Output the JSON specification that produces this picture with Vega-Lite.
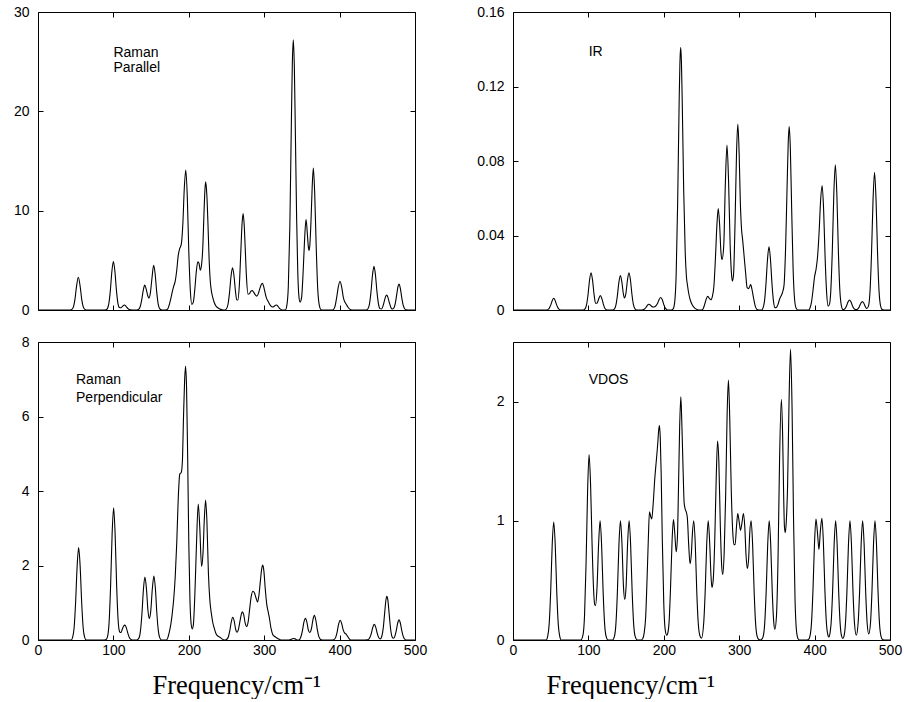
{
"$schema":"https://vega.github.io/schema/vega-lite/v6.json",
"padding":{"left":12,"top":4,"right":0,"bottom":0},
"background":"white",
"bounds":"flush",
"columns":2,
"spacing":{"row":32,"column":98},
"config":{
 "view":{"stroke":"#000","strokeWidth":1},
 "axis":{"domain":false,"grid":false,"tickColor":"#000","tickSize":-5,"tickWidth":1,"labelFont":"Liberation Sans","labelFontSize":14,"labelColor":"#000","titleFont":"Liberation Serif","titleFontSize":26.5,"titleFontWeight":"normal","titleColor":"#000"},
 "axisX":{"labelPadding":8,"labelFlush":false},
 "axisY":{"labelPadding":14}
},
"concat":[
{"width":377,"height":298,"data":{"name":"rpar"},"resolve":{"axis":{"x":"independent","y":"independent"}},
 "layer":[
  {"mark":{"type":"line","color":"#000","strokeWidth":1.1,"interpolate":"monotone"},
   "encoding":{"x":{"field":"f","type":"quantitative","scale":{"domain":[0,500]},"axis":{"orient":"bottom","values":[0,100,200,300,400,500],"labels":false,"title":null}},
    "y":{"field":"v","type":"quantitative","scale":{"domain":[0,30]},"axis":{"orient":"left","values":[0,10,20,30],"title":null}}}},
  {"mark":{"type":"line","opacity":0},
   "encoding":{"x":{"field":"f","type":"quantitative","scale":{"domain":[0,500]},"axis":{"orient":"top","values":[0,100,200,300,400,500],"labels":false,"title":null}},
    "y":{"field":"v","type":"quantitative","scale":{"domain":[0,30]},"axis":{"orient":"right","values":[0,10,20,30],"labels":false,"title":null}}}},
  {"data":{"values":[{"f":100,"v":25.45,"t":"Raman"},{"f":100,"v":23.93,"t":"Parallel"}]},
   "mark":{"type":"text","align":"left","baseline":"alphabetic","font":"Liberation Sans","fontSize":14,"color":"#000"},
   "encoding":{"x":{"field":"f","type":"quantitative","scale":{"domain":[0,500]},"axis":null},"y":{"field":"v","type":"quantitative","scale":{"domain":[0,30]},"axis":null},"text":{"field":"t"}}}
 ]},
{"width":377,"height":298,"data":{"name":"ir"},"resolve":{"axis":{"x":"independent","y":"independent"}},
 "layer":[
  {"mark":{"type":"line","color":"#000","strokeWidth":1.1,"interpolate":"monotone"},
   "encoding":{"x":{"field":"f","type":"quantitative","scale":{"domain":[0,500]},"axis":{"orient":"bottom","values":[0,100,200,300,400,500],"labels":false,"title":null}},
    "y":{"field":"v","type":"quantitative","scale":{"domain":[0,0.16]},"axis":{"orient":"left","values":[0,0.04,0.08,0.12,0.16],"format":"~g","title":null}}}},
  {"mark":{"type":"line","opacity":0},
   "encoding":{"x":{"field":"f","type":"quantitative","scale":{"domain":[0,500]},"axis":{"orient":"top","values":[0,100,200,300,400,500],"labels":false,"title":null}},
    "y":{"field":"v","type":"quantitative","scale":{"domain":[0,0.16]},"axis":{"orient":"right","values":[0,0.04,0.08,0.12,0.16],"labels":false,"title":null}}}},
  {"data":{"values":[{"f":100.4,"v":0.1366,"t":"IR"}]},
   "mark":{"type":"text","align":"left","baseline":"alphabetic","font":"Liberation Sans","fontSize":14,"color":"#000"},
   "encoding":{"x":{"field":"f","type":"quantitative","scale":{"domain":[0,500]},"axis":null},"y":{"field":"v","type":"quantitative","scale":{"domain":[0,0.16]},"axis":null},"text":{"field":"t"}}}
 ]},
{"width":377,"height":298,"data":{"name":"rperp"},"resolve":{"axis":{"x":"independent","y":"independent"}},
 "layer":[
  {"mark":{"type":"line","color":"#000","strokeWidth":1.1,"interpolate":"monotone"},
   "encoding":{"x":{"field":"f","type":"quantitative","scale":{"domain":[0,500]},"axis":{"orient":"bottom","values":[0,100,200,300,400,500],"title":"Frequency/cm⁻¹","titleX":114,"titleY":53,"titleAlign":"left","titleBaseline":"alphabetic"}},
    "y":{"field":"v","type":"quantitative","scale":{"domain":[0,8]},"axis":{"orient":"left","values":[0,2,4,6,8],"title":null}}}},
  {"mark":{"type":"line","opacity":0},
   "encoding":{"x":{"field":"f","type":"quantitative","scale":{"domain":[0,500]},"axis":{"orient":"top","values":[0,100,200,300,400,500],"labels":false,"title":null}},
    "y":{"field":"v","type":"quantitative","scale":{"domain":[0,8]},"axis":{"orient":"right","values":[0,2,4,6,8],"labels":false,"title":null}}}},
  {"data":{"values":[{"f":50.4,"v":6.86,"t":"Raman"},{"f":50.4,"v":6.38,"t":"Perpendicular"}]},
   "mark":{"type":"text","align":"left","baseline":"alphabetic","font":"Liberation Sans","fontSize":14,"color":"#000"},
   "encoding":{"x":{"field":"f","type":"quantitative","scale":{"domain":[0,500]},"axis":null},"y":{"field":"v","type":"quantitative","scale":{"domain":[0,8]},"axis":null},"text":{"field":"t"}}}
 ]},
{"width":377,"height":298,"data":{"name":"vdos"},"resolve":{"axis":{"x":"independent","y":"independent"}},
 "layer":[
  {"mark":{"type":"line","color":"#000","strokeWidth":1.1,"interpolate":"monotone"},
   "encoding":{"x":{"field":"f","type":"quantitative","scale":{"domain":[0,500]},"axis":{"orient":"bottom","values":[0,100,200,300,400,500],"title":"Frequency/cm⁻¹","titleX":33,"titleY":53,"titleAlign":"left","titleBaseline":"alphabetic"}},
    "y":{"field":"v","type":"quantitative","scale":{"domain":[0,2.5]},"axis":{"orient":"left","values":[0,1,2],"title":null}}}},
  {"mark":{"type":"line","opacity":0},
   "encoding":{"x":{"field":"f","type":"quantitative","scale":{"domain":[0,500]},"axis":{"orient":"top","values":[0,100,200,300,400,500],"labels":false,"title":null}},
    "y":{"field":"v","type":"quantitative","scale":{"domain":[0,2.5]},"axis":{"orient":"right","values":[0,1,2],"labels":false,"title":null}}}},
  {"data":{"values":[{"f":100.4,"v":2.146,"t":"VDOS"}]},
   "mark":{"type":"text","align":"left","baseline":"alphabetic","font":"Liberation Sans","fontSize":14,"color":"#000"},
   "encoding":{"x":{"field":"f","type":"quantitative","scale":{"domain":[0,500]},"axis":null},"y":{"field":"v","type":"quantitative","scale":{"domain":[0,2.5]},"axis":null},"text":{"field":"t"}}}
 ]}
],
"datasets":{
"rpar":[{"f":0,"v":0},{"f":43,"v":0},{"f":45,"v":0.06},{"f":47,"v":0.31},{"f":49,"v":1.07},{"f":51,"v":2.33},{"f":53.5,"v":3.3},{"f":56,"v":2.33},{"f":58,"v":1.07},{"f":60,"v":0.31},{"f":62,"v":0.06},{"f":64,"v":0},
{"f":88,"v":0},{"f":90,"v":0.02},{"f":92,"v":0.14},{"f":94,"v":0.66},{"f":96,"v":2.0},{"f":98,"v":3.9},{"f":100,"v":4.87},{"f":102,"v":3.9},{"f":104,"v":2.0},{"f":106,"v":0.67},{"f":108,"v":0.25},{"f":110,"v":0.22},{"f":112,"v":0.36},{"f":114.5,"v":0.5},{"f":117,"v":0.35},{"f":119,"v":0.16},{"f":121,"v":0.05},{"f":123,"v":0.01},{"f":125,"v":0},
{"f":131,"v":0},{"f":133.5,"v":0.07},{"f":135.5,"v":0.33},{"f":137.5,"v":1.0},{"f":139.5,"v":1.95},{"f":141.5,"v":2.5},{"f":143.5,"v":2.1},{"f":145.5,"v":1.45},{"f":147,"v":1.2},{"f":149,"v":1.7},{"f":151,"v":3.1},{"f":153.4,"v":4.5},{"f":155.4,"v":3.6},{"f":157.4,"v":1.85},{"f":159.4,"v":0.6},{"f":161.4,"v":0.14},{"f":163.4,"v":0.02},{"f":166,"v":0},
{"f":169,"v":0},{"f":172,"v":0.1},{"f":174,"v":0.5},{"f":176,"v":1.1},{"f":178,"v":1.8},{"f":180,"v":2.4},{"f":182,"v":2.9},{"f":184,"v":4.0},{"f":186,"v":5.5},{"f":188,"v":6.2},{"f":190,"v":6.6},{"f":192,"v":8.5},{"f":194,"v":12.2},{"f":196,"v":14.1},{"f":198,"v":11.4},{"f":200,"v":5.9},{"f":202,"v":2.0},{"f":204,"v":0.55},{"f":206,"v":0.8},{"f":208,"v":2.1},{"f":210,"v":3.9},{"f":212,"v":4.85},{"f":213.5,"v":4.7},{"f":215.3,"v":4.0},{"f":217,"v":4.6},{"f":218.5,"v":6.2},{"f":220.4,"v":10.3},{"f":221.4,"v":12.1},{"f":222.4,"v":12.9},{"f":224,"v":11.5},{"f":225.5,"v":8.5},{"f":227,"v":5.0},{"f":228.5,"v":2.9},{"f":230,"v":1.9},{"f":232,"v":1.2},{"f":234,"v":0.7},{"f":236,"v":0.4},{"f":238,"v":0.25},{"f":241,"v":0.1},{"f":244,"v":0.03},{"f":248,"v":0},
{"f":250,"v":0.12},{"f":252,"v":0.58},{"f":254,"v":1.75},{"f":256,"v":3.4},{"f":258,"v":4.26},{"f":260,"v":3.4},{"f":262,"v":1.8},{"f":263.5,"v":1.05},{"f":265,"v":1.0},{"f":267,"v":2.45},{"f":269,"v":5.9},{"f":270.5,"v":8.5},{"f":272,"v":9.7},{"f":273.5,"v":8.5},{"f":275,"v":5.9},{"f":276.5,"v":3.3},{"f":278.5,"v":1.6},{"f":280.5,"v":1.65},{"f":282.5,"v":1.9},{"f":284,"v":1.95},{"f":286,"v":1.8},{"f":288,"v":1.55},{"f":290,"v":1.4},{"f":292,"v":1.6},{"f":294,"v":2.1},{"f":296,"v":2.55},{"f":297.5,"v":2.7},{"f":299,"v":2.45},{"f":301,"v":1.8},{"f":303,"v":1.2},{"f":305,"v":0.9},{"f":307,"v":0.6},{"f":309,"v":0.4},{"f":311,"v":0.3},{"f":313,"v":0.35},{"f":315,"v":0.48},{"f":316.5,"v":0.5},{"f":318,"v":0.4},{"f":320,"v":0.2},{"f":322,"v":0.07},{"f":324,"v":0},
{"f":328,"v":0},{"f":330,"v":0.44},{"f":332,"v":2.4},{"f":334,"v":8.4},{"f":336,"v":18.7},{"f":337.3,"v":24.8},{"f":338.6,"v":27.2},{"f":340,"v":24.4},{"f":341.5,"v":17.0},{"f":343,"v":9.3},{"f":344.5,"v":3.9},{"f":346,"v":1.4},{"f":347.5,"v":0.8},{"f":349.5,"v":1.2},{"f":351.5,"v":3.6},{"f":353.5,"v":7.0},{"f":355.5,"v":9.1},{"f":357.3,"v":7.6},{"f":358.5,"v":6.4},{"f":359.4,"v":6.0},{"f":360.5,"v":6.5},{"f":362,"v":8.8},{"f":363.6,"v":12.3},{"f":365.2,"v":14.3},{"f":367,"v":11.7},{"f":369,"v":6.3},{"f":371,"v":2.1},{"f":373,"v":0.5},{"f":375,"v":0.07},{"f":377,"v":0},
{"f":390,"v":0},{"f":392,"v":0.07},{"f":394,"v":0.4},{"f":396,"v":1.2},{"f":398,"v":2.2},{"f":400.5,"v":2.9},{"f":403,"v":2.2},{"f":405,"v":1.25},{"f":407,"v":0.8},{"f":409,"v":0.55},{"f":411,"v":0.3},{"f":413,"v":0.12},{"f":415,"v":0.03},{"f":417,"v":0},
{"f":435,"v":0},{"f":437.6,"v":0.13},{"f":439.6,"v":0.6},{"f":441.6,"v":1.8},{"f":443.6,"v":3.5},{"f":445.6,"v":4.4},{"f":447.6,"v":3.5},{"f":449.6,"v":1.8},{"f":451.6,"v":0.6},{"f":453.6,"v":0.14},{"f":455.5,"v":0.1},{"f":457.5,"v":0.39},{"f":459.5,"v":0.94},{"f":461,"v":1.35},{"f":462.4,"v":1.5},{"f":464,"v":1.3},{"f":466,"v":0.73},{"f":468,"v":0.26},{"f":470,"v":0.1},{"f":472,"v":0.2},{"f":474,"v":0.72},{"f":476,"v":1.68},{"f":477.5,"v":2.37},{"f":478.8,"v":2.6},{"f":480.5,"v":2.2},{"f":482.5,"v":1.21},{"f":484.5,"v":0.43},{"f":486.5,"v":0.1},{"f":488.5,"v":0.014},{"f":491,"v":0},{"f":500,"v":0}],
"ir":[{"f":0,"v":0},{"f":44,"v":0},{"f":46,"v":0.0002},{"f":48,"v":0.0009},{"f":50,"v":0.0026},{"f":52,"v":0.005},{"f":54,"v":0.0063},{"f":56,"v":0.005},{"f":58,"v":0.0026},{"f":60,"v":0.0009},{"f":62,"v":0.0002},{"f":64,"v":0},
{"f":93,"v":0},{"f":95.5,"v":0.0006},{"f":97.5,"v":0.0027},{"f":99.5,"v":0.0082},{"f":101.5,"v":0.016},{"f":103.5,"v":0.020},{"f":105.5,"v":0.016},{"f":107.5,"v":0.0084},{"f":109.5,"v":0.0037},{"f":111.5,"v":0.0036},{"f":113.5,"v":0.0058},{"f":115.8,"v":0.0077},{"f":117.8,"v":0.0062},{"f":119.8,"v":0.0032},{"f":121.8,"v":0.001},{"f":123.8,"v":0.0002},{"f":126,"v":0},
{"f":132,"v":0},{"f":134.4,"v":0.0005},{"f":136.4,"v":0.0025},{"f":138.4,"v":0.0076},{"f":140.4,"v":0.0148},{"f":142.4,"v":0.0185},{"f":144.4,"v":0.015},{"f":146.4,"v":0.0086},{"f":147.7,"v":0.0065},{"f":149.8,"v":0.0091},{"f":151.8,"v":0.0161},{"f":153.8,"v":0.020},{"f":155.8,"v":0.016},{"f":157.8,"v":0.0082},{"f":159.8,"v":0.0027},{"f":161.8,"v":0.0006},{"f":164,"v":0},
{"f":170,"v":0},{"f":172,"v":0.0001},{"f":174,"v":0.0004},{"f":176,"v":0.0012},{"f":178,"v":0.0024},{"f":180.2,"v":0.0031},{"f":182,"v":0.0027},{"f":184,"v":0.0019},{"f":186,"v":0.0016},{"f":188,"v":0.0018},{"f":190,"v":0.0025},{"f":192,"v":0.0038},{"f":194,"v":0.0058},{"f":196,"v":0.0067},{"f":198,"v":0.0055},{"f":200,"v":0.0029},{"f":202,"v":0.001},{"f":204,"v":0.0002},{"f":206,"v":0},
{"f":210,"v":0},{"f":212.4,"v":0.0006},{"f":214.4,"v":0.0041},{"f":216.4,"v":0.019},{"f":218.4,"v":0.058},{"f":220.4,"v":0.113},{"f":221.4,"v":0.133},{"f":222.4,"v":0.141},{"f":223.4,"v":0.133},{"f":224.4,"v":0.113},{"f":226.4,"v":0.064},{"f":228.4,"v":0.031},{"f":230,"v":0.018},{"f":231.5,"v":0.013},{"f":233,"v":0.009},{"f":235,"v":0.0055},{"f":238,"v":0.0025},{"f":241,"v":0.001},{"f":244,"v":0.0003},{"f":248,"v":0},
{"f":250,"v":0},{"f":252.2,"v":0.0007},{"f":254.2,"v":0.003},{"f":256.2,"v":0.0058},{"f":258.2,"v":0.0073},{"f":260.4,"v":0.0063},{"f":262.6,"v":0.0055},{"f":264.5,"v":0.0075},{"f":266.5,"v":0.013},{"f":268.5,"v":0.028},{"f":270.5,"v":0.046},{"f":272.2,"v":0.0545},{"f":274,"v":0.046},{"f":275.8,"v":0.031},{"f":277.2,"v":0.027},{"f":279.5,"v":0.0345},{"f":281.5,"v":0.066},{"f":283.8,"v":0.0885},{"f":286,"v":0.0676},{"f":288,"v":0.035},{"f":289.5,"v":0.021},{"f":290.9,"v":0.0155},{"f":292.5,"v":0.019},{"f":294.5,"v":0.047},{"f":296.5,"v":0.085},{"f":298.2,"v":0.0998},{"f":300,"v":0.083},{"f":301.5,"v":0.058},{"f":303,"v":0.044},{"f":304.6,"v":0.0375},{"f":306.5,"v":0.029},{"f":308.5,"v":0.02},{"f":310.5,"v":0.012},{"f":312.5,"v":0.0115},{"f":315.2,"v":0.0136},{"f":317,"v":0.011},{"f":319,"v":0.0065},{"f":321,"v":0.0025},{"f":323.5,"v":0.0003},{"f":326,"v":0},
{"f":330,"v":0},{"f":331.5,"v":0.001},{"f":333.5,"v":0.0046},{"f":335.5,"v":0.014},{"f":337.5,"v":0.027},{"f":339.5,"v":0.034},{"f":341.5,"v":0.027},{"f":343.5,"v":0.014},{"f":345.5,"v":0.0046},{"f":347.5,"v":0.0012},{"f":349.5,"v":0.0015},{"f":351.5,"v":0.003},{"f":353.5,"v":0.0058},{"f":355.5,"v":0.0075},{"f":357.5,"v":0.0095},{"f":359.5,"v":0.0135},{"f":361.5,"v":0.033},{"f":363.5,"v":0.066},{"f":365,"v":0.0897},{"f":366.3,"v":0.0985},{"f":367.8,"v":0.087},{"f":369.5,"v":0.056},{"f":371.5,"v":0.022},{"f":373.5,"v":0.0055},{"f":375.5,"v":0.001},{"f":378,"v":0},
{"f":392,"v":0},{"f":394,"v":0.0012},{"f":396,"v":0.0045},{"f":398,"v":0.011},{"f":400,"v":0.018},{"f":402,"v":0.022},{"f":404,"v":0.029},{"f":406,"v":0.042},{"f":408,"v":0.059},{"f":410,"v":0.0668},{"f":412,"v":0.0535},{"f":414,"v":0.0275},{"f":416,"v":0.009},{"f":418,"v":0.002},{"f":420,"v":0.0035},{"f":421.5,"v":0.0105},{"f":423.5,"v":0.032},{"f":425.5,"v":0.0624},{"f":427.5,"v":0.078},{"f":429.5,"v":0.0624},{"f":431.5,"v":0.032},{"f":433.5,"v":0.0105},{"f":435.5,"v":0.0023},{"f":437.3,"v":0.0003},
{"f":438.6,"v":0.0002},{"f":440.3,"v":0.0007},{"f":442.3,"v":0.0022},{"f":444.3,"v":0.0043},{"f":446.3,"v":0.0054},{"f":448.3,"v":0.0043},{"f":450.3,"v":0.0022},{"f":452.3,"v":0.0007},{"f":454.3,"v":0.0002},{"f":455.8,"v":0.0002},{"f":457.3,"v":0.0006},{"f":459.3,"v":0.0018},{"f":461.3,"v":0.0036},{"f":463.3,"v":0.0045},{"f":465.3,"v":0.0036},{"f":467.3,"v":0.0018},{"f":469.3,"v":0.0008},{"f":471.5,"v":0.0022},{"f":473.5,"v":0.010},{"f":475.5,"v":0.0304},{"f":477.5,"v":0.059},{"f":479.5,"v":0.074},{"f":481.5,"v":0.059},{"f":483.5,"v":0.0304},{"f":485.5,"v":0.010},{"f":487.5,"v":0.0022},{"f":489.5,"v":0.0003},{"f":492,"v":0},{"f":500,"v":0}],
"rperp":[{"f":0,"v":0},{"f":44,"v":0},{"f":45.9,"v":0.07},{"f":47.9,"v":0.33},{"f":49.9,"v":1.02},{"f":51.9,"v":1.98},{"f":53.9,"v":2.48},{"f":55.9,"v":1.98},{"f":57.9,"v":1.02},{"f":59.9,"v":0.33},{"f":61.9,"v":0.07},{"f":64,"v":0},
{"f":88,"v":0},{"f":90.3,"v":0.015},{"f":92.3,"v":0.1},{"f":94.3,"v":0.48},{"f":96.3,"v":1.46},{"f":98.3,"v":2.84},{"f":100.3,"v":3.55},{"f":102.3,"v":2.84},{"f":104.3,"v":1.46},{"f":106.3,"v":0.52},{"f":108.3,"v":0.22},{"f":110,"v":0.2},{"f":112,"v":0.3},{"f":113.5,"v":0.37},{"f":115.3,"v":0.4},{"f":117.3,"v":0.32},{"f":119.3,"v":0.17},{"f":121.3,"v":0.06},{"f":123.3,"v":0.015},{"f":125,"v":0},
{"f":131,"v":0},{"f":133.8,"v":0.05},{"f":135.8,"v":0.23},{"f":137.8,"v":0.69},{"f":139.8,"v":1.35},{"f":141.8,"v":1.69},{"f":143.8,"v":1.38},{"f":145.8,"v":0.8},{"f":147.5,"v":0.58},{"f":149.4,"v":0.75},{"f":151.7,"v":1.39},{"f":153.7,"v":1.72},{"f":155.7,"v":1.38},{"f":157.7,"v":0.7},{"f":159.7,"v":0.23},{"f":161.7,"v":0.05},{"f":164,"v":0},
{"f":170,"v":0},{"f":172,"v":0.05},{"f":174,"v":0.2},{"f":176,"v":0.4},{"f":178,"v":0.7},{"f":180,"v":1.1},{"f":182,"v":1.7},{"f":184,"v":2.6},{"f":186,"v":3.8},{"f":188,"v":4.45},{"f":190,"v":4.5},{"f":191.5,"v":4.8},{"f":193,"v":6.0},{"f":194.5,"v":7.0},{"f":195.7,"v":7.35},{"f":197,"v":6.8},{"f":198.5,"v":4.9},{"f":200,"v":2.6},{"f":201.5,"v":1.1},{"f":203,"v":0.45},{"f":204.5,"v":0.3},{"f":206,"v":0.4},{"f":208,"v":1.2},{"f":210,"v":2.45},{"f":212.5,"v":3.65},{"f":214.5,"v":3.05},{"f":216.9,"v":1.98},{"f":219,"v":2.4},{"f":220.5,"v":3.2},{"f":222.3,"v":3.76},{"f":224,"v":3.2},{"f":226,"v":1.8},{"f":228,"v":1.05},{"f":230,"v":0.7},{"f":232,"v":0.45},{"f":234,"v":0.3},{"f":236.3,"v":0.16},{"f":239,"v":0.1},{"f":241.6,"v":0.07},{"f":244,"v":0.03},{"f":247,"v":0},
{"f":248,"v":0},{"f":250.4,"v":0.02},{"f":252.4,"v":0.08},{"f":254.4,"v":0.25},{"f":256.4,"v":0.49},{"f":258.3,"v":0.61},{"f":260.3,"v":0.5},{"f":262,"v":0.3},{"f":264,"v":0.21},{"f":266,"v":0.3},{"f":268,"v":0.52},{"f":269.8,"v":0.7},{"f":271,"v":0.76},{"f":272.8,"v":0.68},{"f":274.8,"v":0.45},{"f":276.8,"v":0.36},{"f":278.8,"v":0.5},{"f":280.8,"v":0.85},{"f":282.8,"v":1.17},{"f":285,"v":1.31},{"f":287,"v":1.27},{"f":289,"v":1.14},{"f":291.2,"v":1.02},{"f":293,"v":1.2},{"f":295,"v":1.6},{"f":296.6,"v":1.9},{"f":298.1,"v":2.01},{"f":299.6,"v":1.85},{"f":301.3,"v":1.4},{"f":303.3,"v":0.97},{"f":305,"v":0.78},{"f":306.8,"v":0.6},{"f":309,"v":0.32},{"f":311.3,"v":0.15},{"f":313.5,"v":0.1},{"f":315.7,"v":0.07},{"f":318,"v":0.04},{"f":320,"v":0.02},{"f":323,"v":0},
{"f":333,"v":0},{"f":336,"v":0.02},{"f":338.5,"v":0.04},{"f":341,"v":0.03},{"f":344,"v":0},
{"f":346,"v":0},{"f":348.6,"v":0.08},{"f":350.6,"v":0.24},{"f":352.6,"v":0.47},{"f":354.6,"v":0.58},{"f":356.6,"v":0.48},{"f":358.5,"v":0.27},{"f":360.3,"v":0.2},{"f":362.5,"v":0.29},{"f":364.5,"v":0.53},{"f":366.5,"v":0.66},{"f":368.5,"v":0.53},{"f":370.5,"v":0.27},{"f":372.5,"v":0.09},{"f":374.5,"v":0.02},{"f":377,"v":0},
{"f":391,"v":0},{"f":392.8,"v":0.015},{"f":394.8,"v":0.07},{"f":396.8,"v":0.22},{"f":398.8,"v":0.43},{"f":400.8,"v":0.53},{"f":402.8,"v":0.44},{"f":404.8,"v":0.27},{"f":406.5,"v":0.19},{"f":408.5,"v":0.16},{"f":410.5,"v":0.1},{"f":412.5,"v":0.04},{"f":415,"v":0},
{"f":434,"v":0},{"f":436,"v":0.003},{"f":438,"v":0.012},{"f":440,"v":0.06},{"f":442,"v":0.17},{"f":444,"v":0.34},{"f":446,"v":0.42},{"f":448,"v":0.34},{"f":450,"v":0.17},{"f":452,"v":0.06},{"f":454,"v":0.03},{"f":456,"v":0.1},{"f":458,"v":0.34},{"f":460,"v":0.78},{"f":461.5,"v":1.08},{"f":462.7,"v":1.17},{"f":464,"v":1.07},{"f":465.7,"v":0.71},{"f":467.7,"v":0.29},{"f":469.7,"v":0.08},{"f":471.5,"v":0.045},{"f":473,"v":0.083},{"f":475,"v":0.24},{"f":477,"v":0.45},{"f":478.8,"v":0.54},{"f":480.6,"v":0.45},{"f":482.6,"v":0.24},{"f":484.6,"v":0.083},{"f":486.6,"v":0.018},{"f":489,"v":0},{"f":500,"v":0}],
"vdos":[{"f":0,"v":0},{"f":44,"v":0},{"f":46,"v":0.03},{"f":48,"v":0.135},{"f":50,"v":0.41},{"f":52,"v":0.8},{"f":54,"v":0.99},{"f":56,"v":0.8},{"f":58,"v":0.41},{"f":60,"v":0.135},{"f":62,"v":0.03},{"f":64,"v":0},
{"f":90,"v":0},{"f":92.9,"v":0.045},{"f":94.9,"v":0.21},{"f":96.9,"v":0.64},{"f":98.9,"v":1.24},{"f":100.9,"v":1.555},{"f":102.9,"v":1.3},{"f":104.9,"v":0.8},{"f":106.9,"v":0.42},{"f":108.3,"v":0.3},{"f":109.5,"v":0.29},{"f":111.5,"v":0.45},{"f":113.5,"v":0.8},{"f":115.5,"v":1.0},{"f":117.5,"v":0.8},{"f":119.5,"v":0.41},{"f":121.5,"v":0.135},{"f":123.5,"v":0.03},{"f":126,"v":0},
{"f":132,"v":0},{"f":134.5,"v":0.03},{"f":136.5,"v":0.135},{"f":138.5,"v":0.41},{"f":140.5,"v":0.8},{"f":142.5,"v":1.0},{"f":144.5,"v":0.81},{"f":146.5,"v":0.45},{"f":148.2,"v":0.34},{"f":150,"v":0.45},{"f":152,"v":0.81},{"f":154,"v":1.0},{"f":156,"v":0.8},{"f":158,"v":0.41},{"f":160,"v":0.135},{"f":162,"v":0.03},{"f":165,"v":0},
{"f":170,"v":0},{"f":172,"v":0.01},{"f":174,"v":0.06},{"f":176,"v":0.2},{"f":178,"v":0.55},{"f":179.5,"v":0.85},{"f":181,"v":1.075},{"f":182.5,"v":1.04},{"f":184,"v":1.015},{"f":186,"v":1.15},{"f":188,"v":1.35},{"f":190,"v":1.5},{"f":192,"v":1.65},{"f":193.2,"v":1.76},{"f":194.2,"v":1.8},{"f":195.3,"v":1.7},{"f":196.5,"v":1.4},{"f":198,"v":0.85},{"f":200,"v":0.3},{"f":202,"v":0.08},{"f":204,"v":0.04},{"f":205.2,"v":0.055},{"f":207,"v":0.15},{"f":209,"v":0.45},{"f":211,"v":0.835},{"f":212.8,"v":1.01},{"f":214.5,"v":0.9},{"f":216.4,"v":0.74},{"f":218,"v":0.85},{"f":219.5,"v":1.28},{"f":221,"v":1.78},{"f":222.6,"v":2.04},{"f":224,"v":1.8},{"f":225.5,"v":1.45},{"f":227,"v":1.15},{"f":228.3,"v":1.1},{"f":230,"v":1.07},{"f":231.3,"v":1.02},{"f":233,"v":0.8},{"f":234.8,"v":0.64},{"f":236.5,"v":0.72},{"f":238,"v":0.9},{"f":239.7,"v":1.0},{"f":241.7,"v":0.81},{"f":243.7,"v":0.41},{"f":245.7,"v":0.14},{"f":247.7,"v":0.04},{"f":250,"v":0.015},
{"f":252.9,"v":0.14},{"f":254.9,"v":0.41},{"f":256.9,"v":0.8},{"f":258.9,"v":1.0},{"f":260.9,"v":0.81},{"f":262.5,"v":0.55},{"f":263.8,"v":0.44},{"f":265.5,"v":0.5},{"f":267.5,"v":0.82},{"f":269.5,"v":1.35},{"f":271.3,"v":1.67},{"f":273,"v":1.5},{"f":275,"v":0.95},{"f":276.8,"v":0.62},{"f":278.2,"v":0.55},{"f":280,"v":0.72},{"f":282,"v":1.2},{"f":284,"v":1.9},{"f":285.7,"v":2.18},{"f":287.5,"v":1.85},{"f":289.5,"v":1.25},{"f":291.5,"v":0.9},{"f":293,"v":0.8},{"f":294.6,"v":0.8},{"f":296.4,"v":0.95},{"f":298.1,"v":1.06},{"f":300,"v":0.99},{"f":301.7,"v":0.92},{"f":303.6,"v":0.98},{"f":305.6,"v":1.06},{"f":307.4,"v":0.95},{"f":309,"v":0.72},{"f":310.7,"v":0.6},{"f":312.5,"v":0.68},{"f":314,"v":0.9},{"f":315.8,"v":1.0},{"f":317.8,"v":0.8},{"f":319.8,"v":0.41},{"f":321.8,"v":0.135},{"f":323.8,"v":0.03},{"f":326,"v":0.004},{"f":328,"v":0},
{"f":330,"v":0.008},{"f":331.8,"v":0.03},{"f":333.8,"v":0.135},{"f":335.8,"v":0.41},{"f":337.8,"v":0.8},{"f":339.8,"v":1.0},{"f":341.8,"v":0.8},{"f":343.8,"v":0.41},{"f":345.8,"v":0.15},{"f":347.3,"v":0.09},{"f":349.4,"v":0.2},{"f":351.5,"v":0.68},{"f":353.5,"v":1.5},{"f":355.9,"v":2.02},{"f":357.6,"v":1.72},{"f":359,"v":1.2},{"f":360,"v":0.95},{"f":361.2,"v":0.9},{"f":362.5,"v":1.0},{"f":364.2,"v":1.3},{"f":366.1,"v":2.0},{"f":368.1,"v":2.44},{"f":370.1,"v":1.95},{"f":372.1,"v":1.0},{"f":374.1,"v":0.33},{"f":376.1,"v":0.07},{"f":378.1,"v":0.01},{"f":380,"v":0},
{"f":390,"v":0},{"f":392,"v":0.005},{"f":393.8,"v":0.03},{"f":395.8,"v":0.135},{"f":397.8,"v":0.41},{"f":399.8,"v":0.8},{"f":401.8,"v":1.015},{"f":403.8,"v":0.9},{"f":405.8,"v":0.76},{"f":407.7,"v":0.92},{"f":409.7,"v":1.02},{"f":411.7,"v":0.81},{"f":413.7,"v":0.41},{"f":415.7,"v":0.14},{"f":417.7,"v":0.04},{"f":419,"v":0.025},{"f":420.5,"v":0.06},{"f":421.9,"v":0.14},{"f":423.9,"v":0.41},{"f":425.9,"v":0.8},{"f":427.9,"v":1.0},{"f":429.9,"v":0.8},{"f":431.9,"v":0.41},{"f":433.9,"v":0.135},{"f":435.9,"v":0.03},{"f":437.5,"v":0.013},{"f":438.9,"v":0.03},{"f":440.9,"v":0.135},{"f":442.9,"v":0.41},{"f":444.9,"v":0.8},{"f":446.9,"v":1.0},{"f":448.9,"v":0.8},{"f":450.9,"v":0.41},{"f":452.9,"v":0.14},{"f":455.3,"v":0.04},{"f":457.7,"v":0.14},{"f":459.7,"v":0.41},{"f":461.7,"v":0.8},{"f":463.7,"v":1.0},{"f":465.7,"v":0.8},{"f":467.7,"v":0.41},{"f":469.7,"v":0.14},{"f":471.8,"v":0.05},{"f":474.1,"v":0.14},{"f":476.1,"v":0.41},{"f":478.1,"v":0.8},{"f":480.1,"v":1.0},{"f":482.1,"v":0.8},{"f":484.1,"v":0.41},{"f":486.1,"v":0.135},{"f":488.1,"v":0.03},{"f":490,"v":0.005},{"f":492,"v":0},{"f":500,"v":0}]
}
}
